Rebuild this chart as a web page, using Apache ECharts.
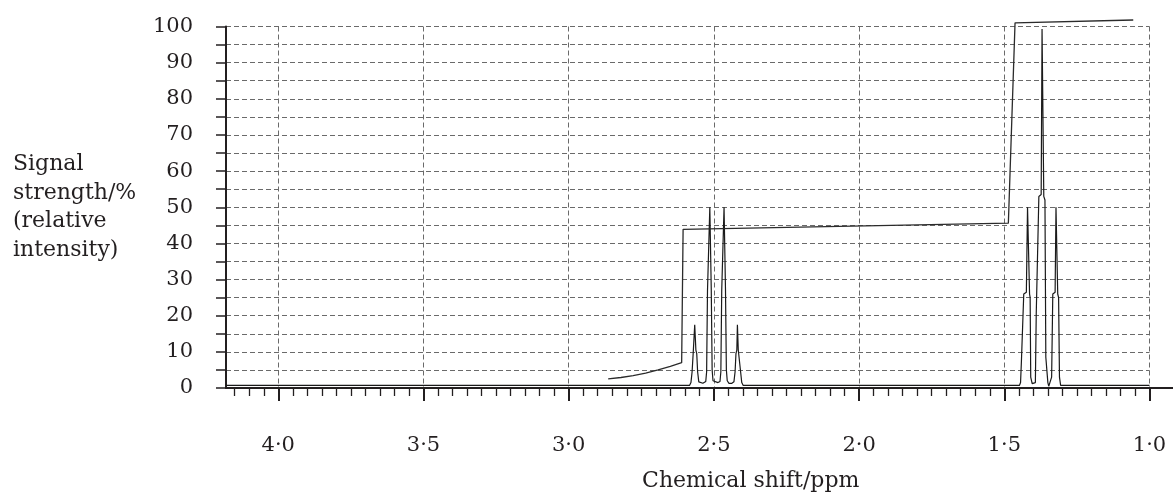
<!DOCTYPE html>
<html>
<head>
<meta charset="utf-8">
<title>NMR spectrum</title>
<script src="https://cdn.jsdelivr.net/npm/echarts@6.0.0/dist/echarts.min.js"></script>
<style>
  html, body { margin: 0; padding: 0; background: #fff; }
  #chart { width: 1173px; height: 502px; }
</style>
</head>
<body>
<div id="chart"></div>
<script>
// chemical shift (ppm) / signal strength (%)
var baselineShift = [4.18, 2.584];
var baselineLevel = [0.7, 0.7];

// quartet around 2.5 ppm
var quartetShift = [
  2.584, 2.579, 2.575, 2.571, 2.567, 2.566, 2.564, 2.562, 2.559, 2.556, 2.552,
  2.546, 2.538,
  2.528, 2.525, 2.522, 2.516, 2.514, 2.511, 2.509, 2.506, 2.503,
  2.497, 2.486,
  2.479, 2.476, 2.473, 2.467, 2.465, 2.462, 2.460, 2.457, 2.454,
  2.448, 2.438,
  2.431, 2.427, 2.424, 2.421, 2.419, 2.417, 2.416, 2.412, 2.408, 2.404, 2.399
];
var quartetIntensity = [
  0.7, 1.5, 4.5, 10, 10.5, 17.5, 17.5, 10.5, 9.5, 4.5, 1.7,
  1.2, 1.3,
  1.8, 4.5, 27, 27.5, 50, 50, 27, 5, 2,
  1.5, 1.5,
  1.8, 4.5, 27, 27.5, 50, 50, 27, 5, 2,
  1.3, 1.3,
  1.7, 4.5, 9.5, 10.5, 17.5, 17.5, 10.5, 10, 4.5, 1.5, 0.7
];

// triplet around 1.37 ppm
var tripletShift = [
  1.448, 1.444, 1.441, 1.436, 1.433, 1.424, 1.420, 1.416, 1.413, 1.411, 1.409,
  1.404, 1.398,
  1.393, 1.390, 1.385, 1.381, 1.373, 1.370, 1.367, 1.364, 1.360, 1.357, 1.353, 1.350,
  1.347, 1.343,
  1.337, 1.333, 1.325, 1.322, 1.319, 1.316, 1.313, 1.310, 1.306, 1.0
];
var tripletIntensity = [
  0.7, 1.5, 7.5, 8, 26, 26.5, 50, 50, 26, 25, 3,
  1.2, 1.0,
  1.5, 20.5, 21, 53, 53.5, 99.3, 99.3, 53, 52, 8.5, 8, 1.5,
  0.5, 1.5,
  3, 26, 26.5, 50, 50, 26, 25, 3, 0.7, 0.7
];

// integration trace
var integralShift = [2.864, 2.82, 2.778, 2.735, 2.692, 2.65, 2.611, 2.606, 1.486, 1.463, 1.056];
var integralValue = [2.5, 2.9, 3.4, 4.1, 5.0, 6.0, 7.0, 43.9, 45.6, 101.0, 101.8];

// axis ticks
var majorTicks = [4.0, 3.5, 3.0, 2.5, 2.0, 1.5, 1.0];
var minorStep = 0.05;

function pairs(xs, ys) {
  var out = [];
  for (var i = 0; i < xs.length; i++) out.push([xs[i], ys[i]]);
  return out;
}

var spectrum = pairs(baselineShift, baselineLevel)
  .concat(pairs(quartetShift, quartetIntensity))
  .concat(pairs(tripletShift, tripletIntensity));

var minorTicks = [];
for (var k = 21; k <= 83; k++) {
  var v = Math.round(k * minorStep * 100) / 100;
  if (Math.abs(v * 2 - Math.round(v * 2)) > 1e-6) minorTicks.push(v);
}

var FONT = 'DejaVu Serif';
var INK = '#231f20';
var GRIDLINE = { type: [5, 3], color: '#6a6a6a', width: 1 };

var chart = echarts.init(document.getElementById('chart'), null, { renderer: 'canvas' });

var option = {
  animation: false,
  backgroundColor: '#fff',
  grid: [
    { left: 226, right: 23.5, top: 26.5, bottom: 114, outerBoundsMode: 'none' },
    // only used to run the x axis line on past 1.0
    { left: 226, right: 0, top: 26.5, bottom: 114, outerBoundsMode: 'none' }
  ],
  xAxis: [
    {
      type: 'value', gridIndex: 0, position: 'bottom', inverse: true,
      min: 1.0, max: 4.18, interval: 0.5,
      axisLine: { show: false },
      axisTick: { show: true, customValues: majorTicks, length: 13, lineStyle: { color: INK, width: 2 } },
      axisLabel: {
        customValues: majorTicks, margin: 47,
        fontFamily: FONT, fontSize: 21, color: INK,
        formatter: function (v) { return v.toFixed(1).replace('.', '\u00b7'); }
      },
      splitLine: { show: true, lineStyle: GRIDLINE },
      name: 'Chemical shift/ppm', nameLocation: 'middle', nameGap: 82,
      nameTextStyle: { fontFamily: FONT, fontSize: 22, color: INK, padding: [0, 0, 0, 126] }
    },
    {
      type: 'value', gridIndex: 0, position: 'bottom', inverse: true,
      min: 1.0, max: 4.18, interval: 0.5,
      axisLine: { show: false },
      axisTick: { show: true, customValues: minorTicks, length: 8, lineStyle: { color: INK, width: 1.3 } },
      axisLabel: { show: false },
      splitLine: { show: false }
    },
    {
      type: 'value', gridIndex: 1, position: 'bottom', min: 0, max: 1,
      axisLine: { show: true, lineStyle: { color: INK, width: 2 } },
      axisTick: { show: false }, axisLabel: { show: false }, splitLine: { show: false }
    }
  ],
  yAxis: [
    {
      type: 'value', gridIndex: 0, min: 0, max: 100, interval: 5,
      axisLine: { show: true, lineStyle: { color: INK, width: 2 } },
      axisTick: { show: true, inside: false, length: 10, lineStyle: { color: INK, width: 1.5 } },
      axisLabel: {
        margin: 33, fontFamily: FONT, fontSize: 21, color: INK,
        formatter: function (v) { return v % 10 === 0 ? String(v) : ''; }
      },
      splitLine: { show: true, lineStyle: GRIDLINE },
      name: 'Signal\nstrength/%\n(relative\nintensity)',
      nameLocation: 'middle', nameRotate: 0, nameGap: 213,
      nameTextStyle: {
        fontFamily: FONT, fontSize: 22, color: INK, lineHeight: 28.5,
        align: 'left', verticalAlign: 'middle', padding: [0, 0, 8, 0]
      }
    },
    {
      type: 'value', gridIndex: 1, min: 0, max: 100, show: false
    }
  ],
  series: [
    {
      name: 'spectrum', type: 'line', xAxisIndex: 0, yAxisIndex: 0,
      data: spectrum, showSymbol: false, symbol: 'none',
      lineStyle: { color: '#1a1a1a', width: 1.2 }, z: 3
    },
    {
      name: 'integral', type: 'line', xAxisIndex: 0, yAxisIndex: 0,
      data: pairs(integralShift, integralValue), showSymbol: false, symbol: 'none',
      clip: false, lineStyle: { color: '#2b2b2b', width: 1.3 }, z: 3
    }
  ]
};

chart.setOption(option);
</script>
</body>
</html>
